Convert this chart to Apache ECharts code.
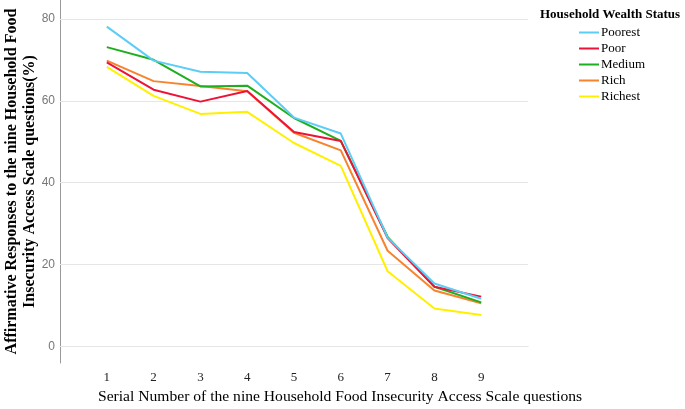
<!DOCTYPE html>
<html>
<head>
<meta charset="utf-8">
<script src="https://cdn.jsdelivr.net/npm/echarts@6/dist/echarts.min.js"></script>
<style>html,body{margin:0;padding:0;background:#fff;}#c{width:685px;height:409px;}</style>
</head>
<body>
<div id="c"></div>
<script>
var questions = [1, 2, 3, 4, 5, 6, 7, 8, 9];
var poorest = [78.1, 69.8, 67.1, 66.8, 55.9, 52.0, 26.6, 15.4, 11.7];
var poor    = [69.4, 62.7, 59.8, 62.4, 52.4, 50.2, 26.5, 14.6, 12.2];
var medium  = [73.1, 70.0, 63.5, 63.7, 55.8, 50.2, 26.8, 14.6, 10.8];
var rich    = [69.8, 64.8, 63.6, 62.3, 52.2, 47.9, 23.4, 13.7, 10.6];
var richest = [68.3, 61.2, 56.8, 57.3, 49.7, 44.1, 18.4, 9.3, 7.7];
var seriesNames = ['Poorest', 'Poor', 'Medium', 'Rich', 'Richest'];
var seriesData = [poorest, poor, medium, rich, richest];
var colors = ['#5ccdf6', '#ee1237', '#1fae1f', '#f7832d', '#fff000'];
var yTicks = [0, 20, 40, 60, 80];

var chart = echarts.init(document.getElementById('c'));
var serif = '"Liberation Serif", "Times New Roman", serif';
chart.setOption({
  animation: false,
  color: colors,
  grid: {left: 60, right: 157, top: 0, bottom: 46, containLabel: false, outerBoundsMode: 'none'},
  legend: {
    orient: 'vertical', left: 579, top: 26, padding: 0, itemWidth: 20, itemHeight: 2, itemGap: 3,
    icon: 'rect',
    textStyle: {fontFamily: serif, fontSize: 13, color: '#000', padding: [0,0,0,-3]},
    data: seriesNames
  },
  graphic: [
    {type: 'text', left: 540, top: 8, style: {text: 'Household Wealth Status', font: 'bold 13px ' + serif, fill: '#000'}},
    {type: 'text', left: 98, top: 389, style: {text: 'Serial Number of the nine Household Food Insecurity Access Scale questions', font: '15.6px ' + serif, fill: '#000'}}
  ],
  xAxis: {
    type: 'value', min: 0, max: 10, interval: 1,
    axisLine: {show: true, lineStyle: {color: '#d9d9d9', width: 1}},
    axisTick: {show: false},
    splitLine: {show: false},
    axisLabel: {
      fontFamily: serif, fontSize: 13, color: '#222', margin: 8,
      formatter: function (v) { return (v >= 1 && v <= 9) ? String(v) : ''; }
    }
  },
  yAxis: {
    type: 'value', min: -4, max: 84.6,
    axisLine: {show: true, lineStyle: {color: '#999', width: 1}},
    axisTick: {show: false},
    splitLine: {show: false},
    axisLabel: {show: false},
    name: 'Affirmative Responses to the nine Household Food\nInsecurity Access Scale questions(%)',
    nameLocation: 'middle', nameGap: 21, nameRotate: 90,
    nameTextStyle: {fontFamily: serif, fontSize: 16, fontWeight: 'bold', color: '#000', lineHeight: 18}
  },
  series: seriesNames.map(function (n, i) {
    return {
      name: n, type: 'line', showSymbol: false, symbol: 'none',
      data: questions.map(function (q, j) { return [q, seriesData[i][j]]; }),
      lineStyle: {width: 2, color: colors[i]},
      itemStyle: {color: colors[i]},
      z: 10 - i
    };
  }).concat([{
    type: 'line', silent: true, data: [],
    markLine: {
      symbol: 'none', silent: true, animation: false,
      label: {show: true, position: 'start', formatter: '{c}', fontFamily: 'Liberation Sans, Arial, sans-serif', fontSize: 12, color: '#777', distance: 5},
      lineStyle: {color: '#e6e6e6', type: 'solid', width: 1},
      data: yTicks.map(function (t) { return {yAxis: t}; })
    }
  }])
});
</script>
</body>
</html>
